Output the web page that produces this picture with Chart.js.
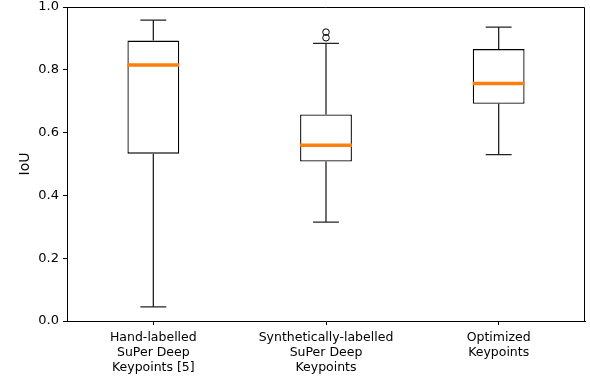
<!DOCTYPE html>
<html>
<head>
<meta charset="utf-8">
<script src="https://cdn.jsdelivr.net/npm/chart.js@4"></script>
<style>
  html, body { margin: 0; padding: 0; background: #fff; }
  #wrap { width: 590px; height: 377px; }
</style>
</head>
<body>
<div id="wrap"><canvas id="IoU-Chart"></canvas></div>
<script>
//-------------------------------------------------- Data
const categories = [
	["Hand-labelled", "SuPer Deep", "Keypoints [5]"],
	["Synthetically-labelled", "SuPer Deep", "Keypoints"],
	["Optimized", "Keypoints"]
];
const whiskerLow = [0.045, 0.315, 0.530];
const q1 = [0.533, 0.508, 0.692];
const median = [0.815, 0.560, 0.756];
const q3 = [0.893, 0.658, 0.866];
const whiskerHigh = [0.958, 0.884, 0.936];
const outliers = [[], [0.902, 0.920], []];
const yTicks = [0.0, 0.2, 0.4, 0.6, 0.8, 1.0];
//^^^^^^^^^^^^^^^^^^^^^^^^^^^^^^^^^^^^^^^^^^^^^^^^^^ Data

const FONT = "'DejaVu Sans', sans-serif";

// whiskers, caps, medians and fliers drawn through the chart scales
const boxExtras = {
	id: "boxExtras",
	afterDatasetsDraw(chart) {
		const ctx = chart.ctx, y = chart.scales.y;
		const meta = chart.getDatasetMeta(0);
		ctx.save();
		categories.forEach((c, i) => {
			const bar = meta.data[i];
			const cx = bar.x, half = bar.width / 2, capHalf = bar.width / 4;
			ctx.strokeStyle = "#222";
			ctx.lineWidth = 1.3;
			ctx.beginPath();
			ctx.moveTo(cx, y.getPixelForValue(q3[i])); ctx.lineTo(cx, y.getPixelForValue(whiskerHigh[i]));
			ctx.moveTo(cx, y.getPixelForValue(q1[i])); ctx.lineTo(cx, y.getPixelForValue(whiskerLow[i]));
			ctx.moveTo(cx - capHalf, y.getPixelForValue(whiskerHigh[i])); ctx.lineTo(cx + capHalf, y.getPixelForValue(whiskerHigh[i]));
			ctx.moveTo(cx - capHalf, y.getPixelForValue(whiskerLow[i])); ctx.lineTo(cx + capHalf, y.getPixelForValue(whiskerLow[i]));
			ctx.stroke();
			// median
			ctx.strokeStyle = "#ff7f0e";
			ctx.lineWidth = 3.5;
			ctx.beginPath();
			ctx.moveTo(cx - half, y.getPixelForValue(median[i])); ctx.lineTo(cx + half, y.getPixelForValue(median[i]));
			ctx.stroke();
			// fliers
			ctx.strokeStyle = "#000";
			ctx.lineWidth = 1;
			outliers[i].forEach(v => {
				ctx.beginPath();
				ctx.arc(cx, y.getPixelForValue(v), 3.3, 0, Math.PI * 2);
				ctx.stroke();
			});
		});
		// top and right spines
		const a = chart.chartArea;
		ctx.strokeStyle = "#000";
		ctx.lineWidth = 1;
		ctx.beginPath();
		ctx.moveTo(a.left, a.top + 0.5); ctx.lineTo(a.right - 0.5, a.top + 0.5); ctx.lineTo(a.right - 0.5, a.bottom);
		ctx.stroke();
		ctx.restore();
	}
};

new Chart(document.getElementById("IoU-Chart").getContext("2d"), {
	type: "bar",
	data: {
		labels: categories,
		datasets: [{
			data: q1.map((v, i) => [v, q3[i]]),
			backgroundColor: "#fff",
			borderColor: "#000",
			borderWidth: 1.3,
			borderSkipped: false,
			categoryPercentage: 1,
			barPercentage: 0.3
		}]
	},
	options: {
		responsive: true,
		maintainAspectRatio: false,
		animation: false,
		layout: { padding: { left: 0, right: 5, top: 7, bottom: 0 } },
		plugins: { legend: { display: false }, tooltip: { enabled: false } },
		scales: {
			x: {
				offset: true,
				grid: { display: true, drawOnChartArea: false, drawTicks: true, tickLength: 4, color: "#000", offset: false },
				border: { display: true, color: "#000", width: 1 },
				ticks: { color: "#000", font: { family: FONT, size: 12.5 }, padding: 5, maxRotation: 0, autoSkip: false },
				afterFit: s => { s.height = 56; s.paddingLeft = 0; s.paddingRight = 0; }
			},
			y: {
				min: 0, max: 1,
				afterBuildTicks: s => { s.ticks = yTicks.map(v => ({ value: v })); },
				grid: { display: true, drawOnChartArea: false, drawTicks: true, tickLength: 4, color: "#000" },
				border: { display: true, color: "#000", width: 1 },
				ticks: { color: "#000", font: { family: FONT, size: 13 }, padding: 4, callback: v => v.toFixed(1) },
				title: { display: true, text: "IoU", color: "#000", font: { family: FONT, size: 14 }, padding: { top: 17, bottom: 0 } },
				afterFit: s => { s.width = 67; s.paddingTop = 0; s.paddingBottom = 0; }
			}
		}
	},
	plugins: [boxExtras]
});
</script>
</body>
</html>
